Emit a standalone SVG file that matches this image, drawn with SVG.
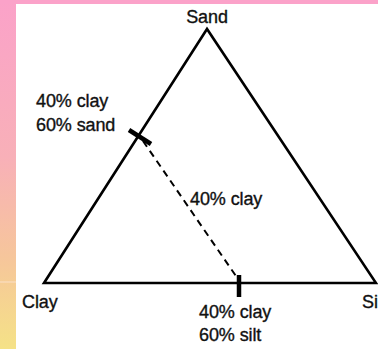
<svg xmlns="http://www.w3.org/2000/svg" width="378" height="349" viewBox="0 0 378 349">
<defs>
<linearGradient id="side" x1="0" y1="0" x2="0" y2="1">
<stop offset="0" stop-color="#fba2c9"/>
<stop offset="0.45" stop-color="#f8b0b8"/>
<stop offset="0.75" stop-color="#f6c79a"/>
<stop offset="1" stop-color="#f5e287"/>
</linearGradient>
<style>
.t{font-family:"Liberation Sans",Arial,sans-serif;font-size:18px;fill:#111;stroke:#111;stroke-width:0.35px;letter-spacing:-0.1px;}
.edge{stroke:#000;stroke-width:2.6;fill:none;stroke-linejoin:miter;}
.tick{stroke:#000;stroke-width:4.5;}
.dash{stroke:#000;stroke-width:2;stroke-dasharray:7 5;fill:none;}
</style>
</defs>
<rect x="0" y="0" width="378" height="349" fill="url(#side)"/>
<rect x="0" y="0" width="378" height="4" fill="#fba2c9"/>
<rect x="16" y="4" width="362" height="345" fill="#ffffff"/>
<line x1="0" y1="282" x2="16" y2="282" stroke="#fbe0c8" stroke-width="1"/>
<g id="triangle">
<polygon class="edge" points="207,29 44,283 376,283"/>
</g>
<g id="connectors">
<line class="dash" x1="143" y1="141" x2="238" y2="279"/>
<line class="tick" x1="129" y1="130" x2="151" y2="144"/>
<line class="tick" x1="239" y1="275" x2="239" y2="297"/>
</g>
<g id="sand"><text class="t" x="207" y="23" text-anchor="middle">Sand</text></g>
<g id="clay"><text class="t" x="22" y="308">Clay</text></g>
<g id="silt"><text class="t" x="362" y="308">Silt</text></g>
<g id="left-point"><text class="t" x="36" y="107">40% clay</text><text class="t" x="36" y="131">60% sand</text></g>
<g id="mid-label"><text class="t" x="190" y="205">40% clay</text></g>
<g id="bottom-point"><text class="t" x="199" y="318">40% clay</text><text class="t" x="199" y="341">60% silt</text></g>
</svg>
